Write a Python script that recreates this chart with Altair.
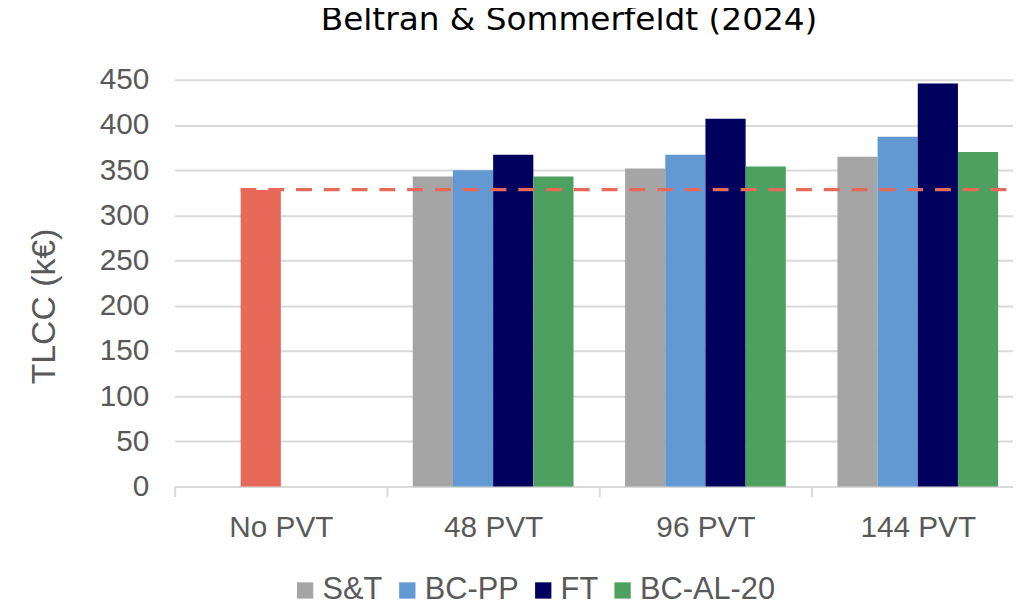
import altair as alt
import pandas as pd

categories = ["No PVT", "48 PVT", "96 PVT", "144 PVT"]
series = ["S&T", "BC-PP", "FT", "BC-AL-20"]
series_colors = ["#A5A5A5", "#6399D2", "#00005E", "#4EA060"]
baseline_color = "#E8695A"

no_pvt_value = 328
st_values = [343, 352, 365]
bcpp_values = [350, 367, 387]
ft_values = [367, 407, 446]
bcal_values = [343, 354, 370]
reference_line = 328.5

rows = [{"cat": "No PVT", "slot": "BC-PP", "key": "No PVT", "value": no_pvt_value}]
for i, c in enumerate(categories[1:]):
    for s, vals in zip(series, [st_values, bcpp_values, ft_values, bcal_values]):
        rows.append({"cat": c, "slot": s, "key": s, "value": vals[i]})
df = pd.DataFrame(rows)

W, H = 845, 410
xscale = alt.Scale(domain=categories, range=[0, 856], paddingInner=0, paddingOuter=0)
offscale = alt.Scale(domain=series, paddingInner=0, paddingOuter=0.642)

bars = alt.Chart(df).mark_bar().encode(
    x=alt.X("cat:N", scale=xscale, sort=categories, title=None,
            axis=alt.Axis(labelAngle=0, labelFontSize=30, labelColor="#595959",
                          labelFont="Liberation Sans", labelPadding=16,
                          domainColor="#D9D9D9", domainWidth=2,
                          tickColor="#D9D9D9", tickWidth=2, tickSize=10,
                          tickBand="extent", grid=False)),
    xOffset=alt.XOffset("slot:N", scale=offscale),
    y=alt.Y("value:Q", scale=alt.Scale(domain=[0, 450], nice=False),
            title="TLCC (k€)",
            axis=alt.Axis(values=list(range(0, 451, 50)), labelFontSize=30,
                          labelColor="#595959", labelFont="Liberation Sans",
                          labelPadding=26, ticks=False, domain=False,
                          gridColor="#D9D9D9", gridWidth=2,
                          titleFontSize=34, titleFont="Liberation Sans",
                          titleFontWeight="normal", titleColor="#595959",
                          titlePadding=38, titleY=228)),
    color=alt.Color("key:N",
                    scale=alt.Scale(domain=series + ["No PVT"], range=series_colors + [baseline_color]),
                    legend=alt.Legend(values=series, title=None, orient="none",
                                      direction="horizontal", legendX=116, legendY=499,
                                      symbolType="square", symbolSize=270,
                                      symbolStrokeWidth=0, labelFontSize=31,
                                      labelColor="#595959", labelFont="Liberation Sans",
                                      columnPadding=9, labelOffset=2)),
)

ref_df = pd.DataFrame({"cat": ["No PVT"], "value": [reference_line]})
rule = alt.Chart(ref_df).mark_rule(color=baseline_color, strokeWidth=3.5, strokeDash=[16, 12]).encode(
    x=alt.X("cat:N", scale=xscale, sort=categories, bandPosition=0.31),
    x2=alt.value(W),
    y=alt.Y("value:Q"),
)

chart = alt.layer(bars, rule).properties(
    width=W, height=H,
    autosize="none",
    padding={"left": 168, "top": 70, "right": 0, "bottom": 115},
    title=alt.TitleParams("Beltran & Sommerfeldt (2024)", fontSize=33, font="DejaVu Sans",
                          fontWeight="normal", color="#000000", anchor="middle",
                          frame="group", dx=-25, offset=28),
).configure_view(stroke=None)

chart.save("out.html", embed_options={"renderer": "svg", "actions": False})
